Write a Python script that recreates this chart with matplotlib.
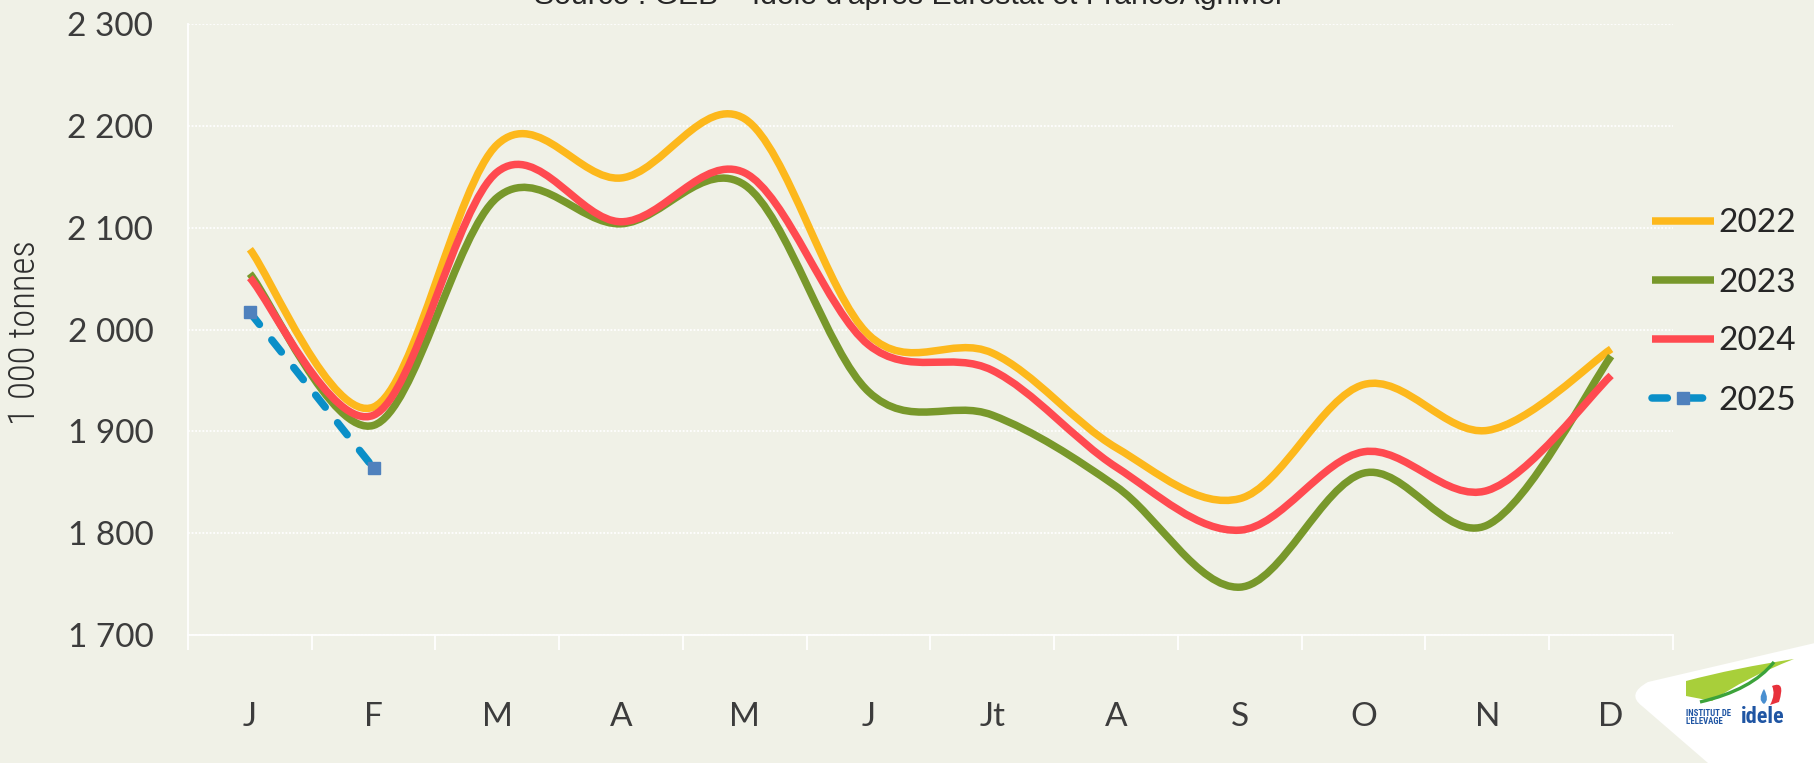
import matplotlib
matplotlib.use("Agg")
import matplotlib.pyplot as plt
from matplotlib.path import Path
from matplotlib.patches import PathPatch
from matplotlib.lines import Line2D
from matplotlib import font_manager

# ---------------- data ----------------
months = ["J", "F", "M", "A", "M", "J", "Jt", "A", "S", "O", "N", "D"]
y2022 = [2079, 1924, 2182, 2149, 2207, 1995, 1977, 1884, 1834, 1946, 1901, 1981]
y2023 = [2055, 1906, 2130, 2104, 2142, 1939, 1916, 1846, 1747, 1859, 1808, 1974]
y2024 = [2051, 1916, 2155, 2106, 2154, 1985, 1960, 1865, 1803, 1880, 1842, 1955]
y2025 = [2017, 1864]
series_labels = ["2022", "2023", "2024", "2025"]
yticks = [1700, 1800, 1900, 2000, 2100, 2200, 2300]
ytick_labels = ["1 700", "1 800", "1 900", "2 000", "2 100", "2 200", "2 300"]
title_text = "Source : GEB – Idele d'après Eurostat et FranceAgriMer"
ylabel_text = "1 000 tonnes"

# ---------------- style ----------------
W, H, DPI = 1815, 763, 100
BG = "#F0F1E7"
C22, C23, C24 = "#FDB81C", "#78982B", "#FF4A50"
C25, C25M = "#0A8FC8", "#4F81BD"
LW = 5.4

available = {f.name for f in font_manager.fontManager.ttflist}
def pick(*names):
    for n in names:
        if n in available:
            return n
    return "DejaVu Sans"

MAIN_FONT = pick("Lato", "Open Sans", "DejaVu Sans")
MAIN_COLOR = "#3C3C3C"
NARROW_FONT = pick("Liberation Sans Narrow", "Roboto Condensed", "Open Sans Condensed", "DejaVu Sans")
TITLE_FONT = pick("Liberation Sans", "Arial", "DejaVu Sans")


def smooth_path(xs, ys, t=1.0 / 6.0):
    pts = list(zip(xs, ys))
    n = len(pts)
    verts = [pts[0]]
    codes = [Path.MOVETO]
    for i in range(n - 1):
        p0 = pts[i - 1] if i > 0 else pts[i]
        p1 = pts[i]
        p2 = pts[i + 1]
        p3 = pts[i + 2] if i + 2 < n else pts[i + 1]
        c1 = (p1[0] + (p2[0] - p0[0]) * t, p1[1] + (p2[1] - p0[1]) * t)
        c2 = (p2[0] - (p3[0] - p1[0]) * t, p2[1] - (p3[1] - p1[1]) * t)
        verts += [c1, c2, p2]
        codes += [Path.CURVE4] * 3
    return Path(verts, codes)


fig = plt.figure(figsize=(W / DPI, H / DPI), dpi=DPI, facecolor=BG)
ax = fig.add_axes([188 / W, 1 - 635 / H, (1673 - 188) / W, (635 - 24.3) / H])
ax.set_facecolor(BG)

x = list(range(len(months)))
for ys, col in [(y2022, C22), (y2023, C23), (y2024, C24)]:
    patch = PathPatch(smooth_path(x, ys), facecolor="none", edgecolor=col,
                      lw=LW, capstyle="butt", joinstyle="round", zorder=3)
    ax.add_patch(patch)

ax.plot(x[:len(y2025)], y2025, color=C25, lw=LW, dashes=(2.05, 2.65),
        dash_capstyle="round", marker="s", markersize=9,
        markerfacecolor=C25M, markeredgecolor=C25M, zorder=4)

ax.set_xlim(-0.5, len(months) - 0.5)
ax.set_ylim(1700, 2300)

# grid / spines
ax.set_yticks(yticks)
ax.set_yticklabels(ytick_labels)
ax.yaxis.grid(True, color="white", lw=1.3, linestyle=(0, (1, 1)), zorder=0)
ax.set_axisbelow(True)
for s in ["top", "right"]:
    ax.spines[s].set_visible(False)
for s in ["left", "bottom"]:
    ax.spines[s].set_color("white")
    ax.spines[s].set_linewidth(1.3)

ax.set_xticks(x)
ax.set_xticklabels(months)
ax.set_xticks([i - 0.5 for i in range(len(months) + 1)], minor=True)
ax.tick_params(axis="x", which="major", length=0, pad=48)
ax.tick_params(axis="x", which="minor", length=11, width=1.3, color="white", direction="out")
ax.tick_params(axis="y", length=0, pad=25)
for lab in ax.get_xticklabels() + ax.get_yticklabels():
    lab.set_fontfamily(MAIN_FONT)
    lab.set_fontweight("normal")
    lab.set_fontsize(24)
    lab.set_color(MAIN_COLOR)

fig.text(25 / W, 1 - 333 / H, ylabel_text, rotation=90, ha="center", va="center",
         fontsize=26.5, color="#2E2E2E", family=NARROW_FONT, fontweight="light")

fig.text(910 / W, 1 - 4 / H, title_text, ha="center", va="baseline",
         fontsize=21.7, color="#262626", family=TITLE_FONT)

# legend
handles = [
    Line2D([], [], color=C22, lw=LW, solid_capstyle="butt"),
    Line2D([], [], color=C23, lw=LW, solid_capstyle="butt"),
    Line2D([], [], color=C24, lw=LW, solid_capstyle="butt"),
    Line2D([], [], color=C25, lw=LW, dashes=(2.05, 2.65), dash_capstyle="round",
           marker="s", markersize=9, markerfacecolor=C25M, markeredgecolor=C25M),
]
leg = fig.legend(handles, series_labels, loc="center left",
                 bbox_to_anchor=(1652 / W, 1 - 312 / H), frameon=False,
                 borderaxespad=0, borderpad=0, handlelength=1.85,
                 handletextpad=0.15, labelspacing=0.87,
                 prop={"family": MAIN_FONT, "weight": "normal", "size": 24})
for t in leg.get_texts():
    t.set_color("#262626")

# ---------------- logo (approximation) ----------------
def fx(px):
    return px / W

def fy(py):
    return 1 - py / H

blob = Path(
    [(fx(1648), fy(682)), (fx(1815), fy(643)), (fx(1815), fy(763)),
     (fx(1708), fy(763)), (fx(1642), fy(706)), (fx(1626), fy(694)),
     (fx(1648), fy(682))],
    [Path.MOVETO, Path.LINETO, Path.LINETO, Path.LINETO, Path.LINETO,
     Path.CURVE3, Path.CURVE3])
fig.patches.append(PathPatch(blob, transform=fig.transFigure, facecolor="white",
                             edgecolor="none", zorder=5))

leaf = Path(
    [(fx(1686), fy(681)), (fx(1735), fy(668)), (fx(1794), fy(659)),
     (fx(1745), fy(678)), (fx(1712), fy(701)), (fx(1686), fy(696)),
     (fx(1686), fy(681))],
    [Path.MOVETO, Path.CURVE3, Path.CURVE3, Path.CURVE3, Path.CURVE3,
     Path.LINETO, Path.CLOSEPOLY])
fig.patches.append(PathPatch(leaf, transform=fig.transFigure, facecolor="#A8CF3A",
                             edgecolor="none", zorder=6))
stroke = Path([(fx(1700), fy(702)), (fx(1752), fy(690)), (fx(1774), fy(662))],
              [Path.MOVETO, Path.CURVE3, Path.CURVE3])
fig.patches.append(PathPatch(stroke, transform=fig.transFigure, facecolor="none",
                             edgecolor="#3CA33A", lw=2.4, zorder=7))
drop = Path([(fx(1764), fy(689)), (fx(1757), fy(700)), (fx(1764), fy(704)),
             (fx(1770), fy(700)), (fx(1764), fy(689))],
            [Path.MOVETO, Path.CURVE3, Path.CURVE3, Path.CURVE3, Path.CURVE3])
fig.patches.append(PathPatch(drop, transform=fig.transFigure, facecolor="#4A8FD0",
                             edgecolor="none", zorder=7))
flag = Path([(fx(1772), fy(686)), (fx(1786), fy(680)), (fx(1779), fy(702)),
             (fx(1770), fy(705)), (fx(1776), fy(694)), (fx(1772), fy(686))],
            [Path.MOVETO, Path.CURVE3, Path.CURVE3, Path.LINETO,
             Path.CURVE3, Path.CURVE3])
fig.patches.append(PathPatch(flag, transform=fig.transFigure, facecolor="#E8313C",
                             edgecolor="none", zorder=7))
fig.text(fx(1686), fy(713), "INSTITUT DE", fontsize=6.3, fontweight="bold",
         color="#1F55A3", family=NARROW_FONT, va="center", ha="left", zorder=8)
fig.text(fx(1686), fy(721), "L'ELEVAGE", fontsize=6.3, fontweight="bold",
         color="#1F55A3", family=NARROW_FONT, va="center", ha="left", zorder=8)
fig.text(fx(1741), fy(717), "idele", fontsize=16, fontweight="bold",
         color="#1F55A3", family=NARROW_FONT, va="center", ha="left", zorder=8)

fig.savefig("out.png", dpi=DPI, facecolor=BG)
